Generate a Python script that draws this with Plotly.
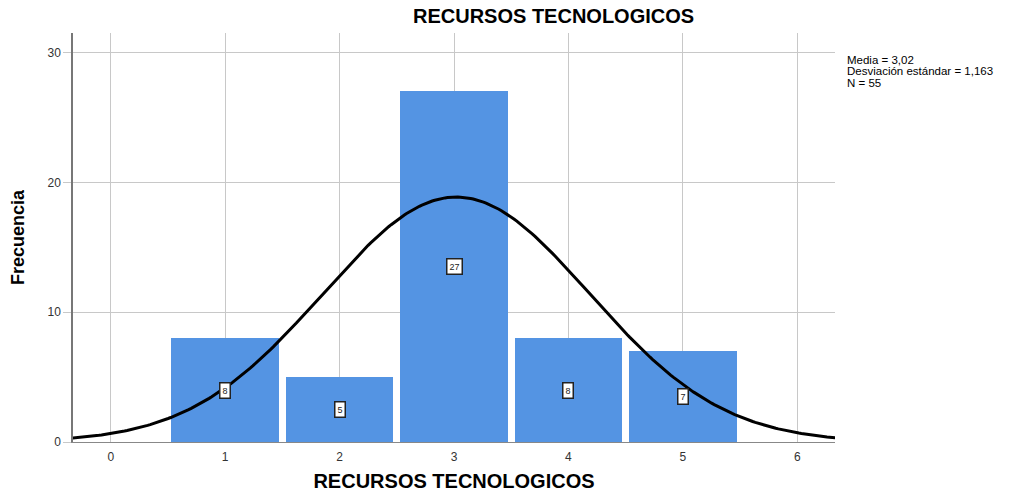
import numpy as np
import plotly.graph_objects as go

# Data
categories = [1, 2, 3, 4, 5]
frequencies = [8, 5, 27, 8, 7]
mean_val = 3.02
std_val = 1.163
n_val = 55
title_text = "RECURSOS TECNOLOGICOS"
stats_lines = ["Media = 3,02", "Desviación estándar = 1,163", "N = 55"]
x_ticks = [0, 1, 2, 3, 4, 5, 6]
y_ticks = [0, 10, 20, 30]

bar_color = "#5494E3"
font_main = "Liberation Sans, Arial, sans-serif"

fig = go.Figure()
fig.add_trace(go.Bar(
    x=categories, y=frequencies, width=0.94,
    marker=dict(color=bar_color, line=dict(width=0)),
    showlegend=False, hoverinfo="x+y"))

# Normal curve fitted from the stated statistics (bin width 1)
xs = np.linspace(-0.35, 6.35, 300)
ys = n_val * 1.0 / (std_val * np.sqrt(2 * np.pi)) * np.exp(-0.5 * ((xs - mean_val) / std_val) ** 2)
fig.add_trace(go.Scatter(x=xs, y=ys, mode="lines",
                         line=dict(color="black", width=3), showlegend=False))

for c, f in zip(categories, frequencies):
    fig.add_annotation(x=c, y=f / 2, text=str(f), showarrow=False,
                       font=dict(size=9, color="#222", family=font_main),
                       bgcolor="white", bordercolor="#222", borderwidth=1.5, borderpad=2)

fig.add_annotation(x=0.63, y=1.0, xref="paper", yref="paper", yanchor="bottom",
                   yshift=4, text="<b>" + title_text + "</b>", showarrow=False,
                   font=dict(size=20, color="black", family=font_main))

for i, line in enumerate(stats_lines):
    fig.add_annotation(x=1.013, y=29.4 - i * 0.86, xref="paper", yref="y",
                       xanchor="left", yanchor="middle", text=line, showarrow=False,
                       font=dict(size=11.5, color="black", family=font_main))

fig.update_layout(
    width=1032, height=493,
    margin=dict(l=73, r=197, t=33, b=51),
    paper_bgcolor="white", plot_bgcolor="white",
    bargap=0,
    xaxis=dict(range=[-0.33, 6.33], tickvals=x_ticks, ticktext=[str(v) for v in x_ticks],
               automargin=False,
               showgrid=True, gridcolor="#C8C8C8", gridwidth=1,
               showline=True, linecolor="#888", linewidth=1,
               ticks="outside", ticklen=4, tickcolor="rgba(0,0,0,0)", zeroline=False,
               tickfont=dict(size=12, color="#333", family=font_main),
               title=dict(text="<b>RECURSOS TECNOLOGICOS</b>",
                          font=dict(size=20, color="black", family=font_main), standoff=10)),
    yaxis=dict(range=[0, 31.5], tickvals=y_ticks, ticktext=[str(v) for v in y_ticks],
               automargin=False,
               showgrid=True, gridcolor="#C8C8C8", gridwidth=1,
               showline=True, linecolor="#777", linewidth=1.5,
               ticks="outside", ticklen=8, tickcolor="#C8C8C8", zeroline=False,
               tickfont=dict(size=12, color="#333", family=font_main),
               title=dict(text="<b>Frecuencia</b>",
                          font=dict(size=18, color="black",
                                    family="Liberation Sans Narrow, Arial Narrow, Liberation Sans"),
                          standoff=18)),
)

fig.write_html("out.html")
